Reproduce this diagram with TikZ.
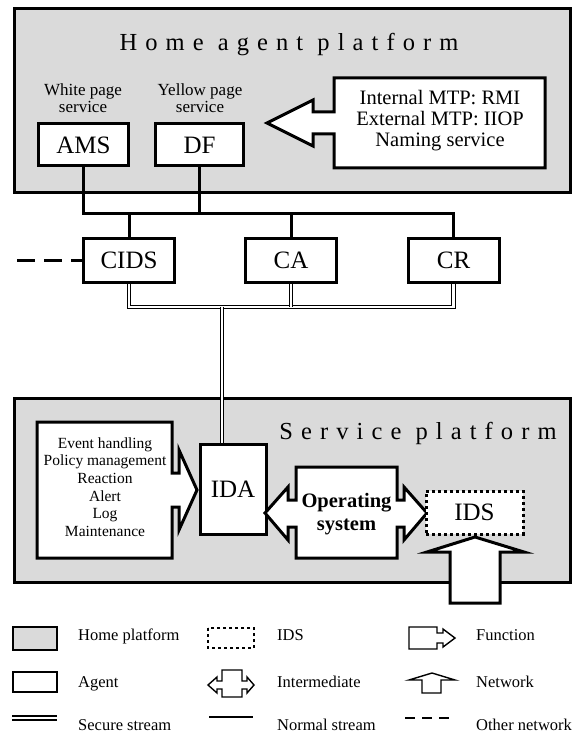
\documentclass[tikz,border=0pt]{standalone}
\usepackage{fontspec}
\setmainfont{Liberation Serif}
\newfontfamily\spacedfont[LetterSpace=33]{Liberation Serif}
\usetikzlibrary{calc}
\definecolor{hpGray}{HTML}{DADADA}
\definecolor{hpInk}{HTML}{000000}
\tikzset{
 hpfig/.style={line join=miter,text=hpInk},
 platform/.style={draw=hpInk,fill=hpGray,line width=3pt},
 platformtitle/.style={font=\spacedfont\fontsize{24.5}{28}\selectfont,inner sep=0pt},
 agent/.style={rectangle,draw=hpInk,fill=white,line width=3pt,inner sep=0pt,font=\fontsize{25}{28}\selectfont},
 idsbox/.style={agent,dash pattern=on 3pt off 3pt},
 funcshape/.style={draw=hpInk,fill=white,line width=3pt},
 servicelabel/.style={font=\fontsize{17}{17}\selectfont,align=center,inner sep=0pt},
 normal/.style={draw=hpInk,line width=3pt},
 secure/.style={draw=hpInk,line width=1pt,double=white,double distance=2.2pt},
 othernet/.style={draw=hpInk,line width=3pt,dash pattern=on 18pt off 9pt},
 legline/.style={draw=hpInk,line width=1.4pt},
 legtext/.style={font=\fontsize{16.5}{19}\selectfont,anchor=base west,inner sep=0pt}
}

\begin{document}
\begin{tikzpicture}[hpfig,x=1pt,y=-1pt]
 \useasboundingbox (0,0) rectangle (576,735);
 % platforms
 \draw[platform] (14,9) rectangle (570,193);
 \draw[platform] (14,398) rectangle (570,582);
 \node[platformtitle] (homeT) at (289,45) {Home agent platform};
 \node[platformtitle] (servT) at (418,433) {Service platform};
 % home agent platform
 \node[servicelabel] (wps) at (83,98) {White page\\service};
 \node[servicelabel] (yps) at (200,98) {Yellow page\\service};
 \node[agent,minimum width=90pt,minimum height=42pt] (AMS) at (83.5,145) {AMS};
 \node[agent,minimum width=88pt,minimum height=42pt] (DF) at (199.5,145) {DF};
 \draw[funcshape] (334,78) -- (545,78) -- (545,168) -- (334,168) -- (334,134) -- (313,134)
   -- (313,146) -- (267,123) -- (313,100) -- (313,112) -- (334,112) -- cycle;
 \node[font=\fontsize{20.5}{21}\selectfont,align=center] (mtp) at (440,121)
   {Internal MTP: RMI\\External MTP: IIOP\\Naming service};
 % central agents
 \node[agent,minimum width=91pt,minimum height=44pt] (CIDS) at (129,260.5) {CIDS};
 \node[agent,minimum width=91pt,minimum height=44pt] (CA) at (291,260.5) {CA};
 \node[agent,minimum width=91pt,minimum height=44pt] (CR) at (453.5,260.5) {CR};
 \coordinate (bus) at (0,214);
 \coordinate (sbus) at (222,307);
 \coordinate (other) at (17,0);
 \draw[normal] (AMS.south) -- (AMS.south|-bus) -- (CR.north|-bus) -- (CR.north);
 \foreach \n in {DF.south,CIDS.north,CA.north}{
  \draw[normal] (\n) -- (\n|-bus);
 }
 \draw[othernet] (other|-CIDS.west) -- (CIDS.west);
 % service platform
 \draw[funcshape] (37,422) -- (172,422) -- (172,473) -- (179,473) -- (179,450) -- (197,490)
   -- (179,530) -- (179,507) -- (172,507) -- (172,558) -- (37,558) -- cycle;
 \node[font=\fontsize{15.5}{17.6}\selectfont,align=center] (funcs) at (105,487)
   {Event handling\\Policy management\\Reaction\\Alert\\Log\\Maintenance};
 \node[agent,minimum width=66pt,minimum height=90pt] (IDA) at (233,489) {IDA};
 \draw[funcshape] (296,467) -- (397,467) -- (397,500) -- (404,500) -- (404,487) -- (427,513)
   -- (404,540) -- (404,527) -- (397,527) -- (397,558) -- (296,558) -- (296,527) -- (288,527)
   -- (288,540) -- (265,513) -- (288,487) -- (288,500) -- (296,500) -- cycle;
 \node[font=\bfseries\fontsize{20.5}{23}\selectfont,align=center] (os) at (346.5,514) {Operating\\system};
 \node[idsbox,minimum width=97pt,minimum height=43pt] (IDS) at (474.5,512.5) {IDS};
 \draw[funcshape] (450,603) -- (450,552) -- (427,552) -- (475,537) -- (524,552) -- (500,552)
   -- (500,603) -- cycle;
 % secure streams
 \draw[secure] (CIDS.south) -- (CIDS.south|-sbus) -- (CR.south|-sbus) -- (CR.south);
 \draw[secure] (CA.south) -- (CA.south|-sbus);
 \draw[secure] (sbus) -- (sbus|-IDA.north);
 % legend
 \draw[legline,fill=hpGray] (13,627) rectangle (57,650);
 \draw[line width=2.5pt,dash pattern=on 3pt off 3pt] (208,628) rectangle (254,648);
 \draw[legline] (409,627) -- (437,627) -- (437,633) -- (443,633) -- (443,629) -- (455,638)
   -- (443,647) -- (443,643) -- (437,643) -- (437,649) -- (409,649) -- cycle;
 \draw[legline] (13,672) rectangle (57,692);
 \draw[legline] (222,670) -- (242,670) -- (242,681) -- (247,681) -- (247,677) -- (254,685)
   -- (247,693) -- (247,689) -- (242,689) -- (242,697) -- (222,697) -- (222,689) -- (217,689)
   -- (217,693) -- (208,685) -- (217,677) -- (217,681) -- (222,681) -- cycle;
 \draw[legline] (422,693) -- (422,680) -- (409,680) -- (432,673) -- (455,680) -- (441,680)
   -- (441,693) -- cycle;
 \draw[line width=1.8pt,double=white,double distance=1.8pt] (12,718) -- (57,718);
 \draw[line width=1.8pt] (209,717) -- (253,717);
 \draw[line width=1.8pt,dash pattern=on 10pt off 7pt] (405,718) -- (455,718);
 \node[legtext] (lgHome) at (78,640.5) {Home platform};
 \node[legtext] (lgIDS) at (277,640.5) {IDS};
 \node[legtext] (lgFunc) at (476,640.5) {Function};
 \node[legtext] (lgAgent) at (78,687) {Agent};
 \node[legtext] (lgInter) at (277,687) {Intermediate};
 \node[legtext] (lgNet) at (476,687) {Network};
 \node[legtext] (lgSec) at (78,730.5) {Secure stream};
 \node[legtext] (lgNorm) at (277,730.5) {Normal stream};
 \node[legtext] (lgOther) at (476,730.5) {Other network};
\end{tikzpicture}
\end{document}
